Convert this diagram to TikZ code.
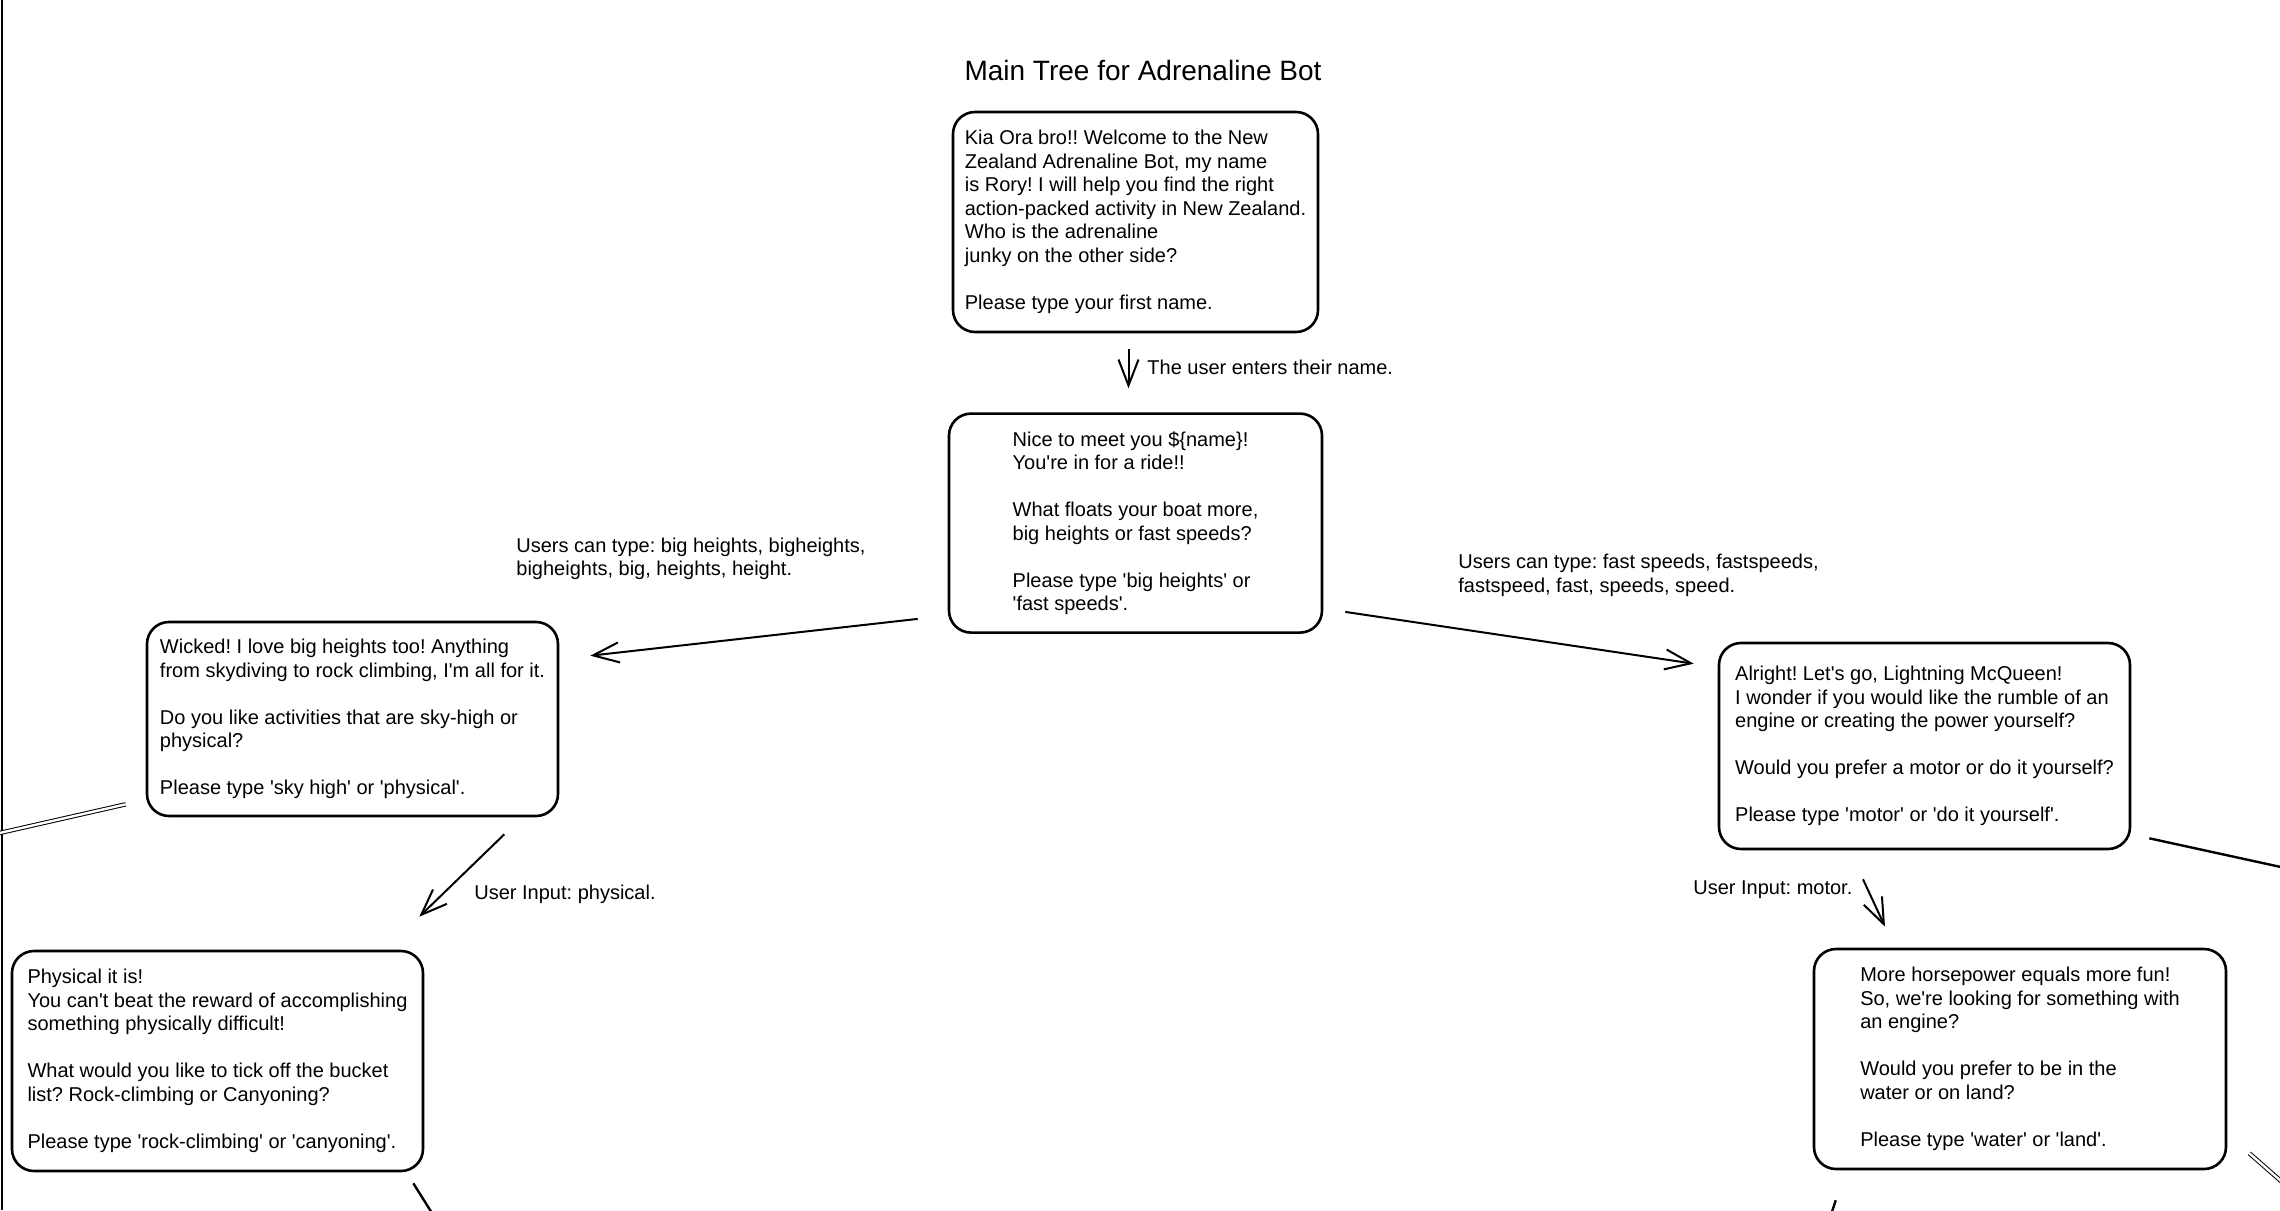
\documentclass[tikz,border=0pt]{standalone}
\usepackage{fontspec}
\setmainfont{Liberation Sans}
\usetikzlibrary{positioning,arrows.meta}
\newcommand{\qt}{\textquotesingle}
\frenchspacing

\begin{document}
\begin{tikzpicture}[
		x=0.5pt, y=-0.5pt,
		box/.style={draw, line width=1.3pt, rounded corners=11pt, align=left, inner sep=0pt, font=\fontsize{10}{11.75}\selectfont},
		note/.style={align=left, anchor=west, inner sep=0pt, font=\fontsize{10}{11.75}\selectfont},
		arr/.style={-{Straight Barb[length=13pt,width=10pt]}, line width=1pt},
		edge/.style={line width=1.2pt},
		twin/.style={double, line width=0.5pt, double distance=1.2pt}
		]
	\useasboundingbox (0,0) rectangle (2280,1210);
	\clip (0,0) rectangle (2280,1210);
	\fill[white] (0,0) rectangle (2280,1210);
	\draw[line width=1pt] (1.5,0) -- (1.5,1210);

	% Title
	\node[font=\fontsize{14}{16}\selectfont] (title) at (1143,70) {Main Tree for Adrenaline Bot};

	% Boxes
	\node[box, minimum width=182.5pt, minimum height=110pt] (welcome) at (1135.5,222) {Kia Ora bro!! Welcome to the New\\Zealand Adrenaline Bot, my name\\is Rory! I will help you find the right\\action-packed activity in New Zealand.\\Who is the adrenaline\\junky on the other side?\\[11.75pt]Please type your first name.};
	\node[box, below=39.5pt of welcome, minimum width=186.5pt, minimum height=109.5pt] (meet) {Nice to meet you \$\{name\}!\\You\qt re in for a ride!!\\[11.75pt]What floats your boat more,\\big heights or fast speeds?\\[11.75pt]Please type \qt big heights\qt{} or\\\qt fast speeds\qt .};
	\node[box, minimum width=205.5pt, minimum height=97pt] (heights) at (352.5,719) {Wicked! I love big heights too! Anything\\from skydiving to rock climbing, I\qt m all for it.\\[11.75pt]Do you like activities that are sky-high or\\physical?\\[11.75pt]Please type \qt sky high\qt{} or \qt physical\qt .};
	\node[box, minimum width=205.5pt, minimum height=103pt] (speeds) at (1924.5,746) {Alright! Let\qt s go, Lightning McQueen!\\I wonder if you would like the rumble of an\\engine or creating the power yourself?\\[11.75pt]Would you prefer a motor or do it yourself?\\[11.75pt]Please type \qt motor\qt{} or \qt do it yourself\qt .};
	\node[box, minimum width=205.5pt, minimum height=110pt] (physical) at (217.5,1061) {Physical it is!\\You can\qt t beat the reward of accomplishing\\something physically difficult!\\[11.75pt]What would you like to tick off the bucket\\list? Rock-climbing or Canyoning?\\[11.75pt]Please type \qt rock-climbing\qt{} or \qt canyoning\qt .};
	\node[box, minimum width=206pt, minimum height=110pt] (motor) at (2020,1059) {More horsepower equals more fun!\\So, we\qt re looking for something with\\an engine?\\[11.75pt]Would you prefer to be in the\\water or on land?\\[11.75pt]Please type \qt water\qt{} or \qt land\qt .};

	% Labels
	\node[note] (asknote) at (1147,367) {The user enters their name.};
	\node[note] (heightsnote) at (516,559) {Users can type: big heights, bigheights,\\bigheights, big, heights, height.};
	\node[note] (speedsnote) at (1458,575.5) {Users can type: fast speeds, fastspeeds,\\fastspeed, fast, speeds, speed.};
	\node[note] (physnote) at (474,894) {User Input: physical.};
	\node[note] (motornote) at (1693,890) {User Input: motor.};

	% Arrows
	\draw[arr, shorten <=8pt, shorten >=12pt] ([xshift=-3.5pt]welcome.south) -- ([xshift=-3.5pt]meet.north);
	\draw[arr] ([xshift=-15pt,yshift=7.5pt]meet.south west) -- ([xshift=15.5pt,yshift=-17.5pt]heights.north east);
	\draw[arr] ([xshift=11pt,yshift=11pt]meet.south east) -- ([xshift=-12pt,yshift=-11pt]speeds.north west);
	\draw[arr] ([xshift=-27.5pt,yshift=-8.5pt]heights.south east) -- ([xshift=-2.5pt,yshift=16.5pt]physical.north east);
	\draw[arr] ([xshift=-30.75pt,yshift=-14.5pt]speeds.south) -- ([xshift=-67.5pt,yshift=10.5pt]motor.north);

	% Lines running off the page
	\coordinate (offleft) at (-40,842);
	\coordinate (offright) at (2400,893);
	\coordinate (offphys) at (442,1229);
	\coordinate (offmotor) at (2330,1224);
	\coordinate (offdown) at (1826,1230);
	\draw[twin] ([xshift=-10pt,yshift=6.5pt]heights.south west) -- (offleft);
	\draw[edge] ([xshift=9pt,yshift=6pt]speeds.south east) -- (offright);
	\draw[edge] ([xshift=-5.5pt,yshift=-5.5pt]physical.south east) -- (offphys);
	\draw[twin] ([xshift=11pt,yshift=8.5pt]motor.south east) -- (offmotor);
	\draw[edge] ([xshift=11.5pt,yshift=-15pt]motor.south west) -- (offdown);
\end{tikzpicture}
\end{document}
